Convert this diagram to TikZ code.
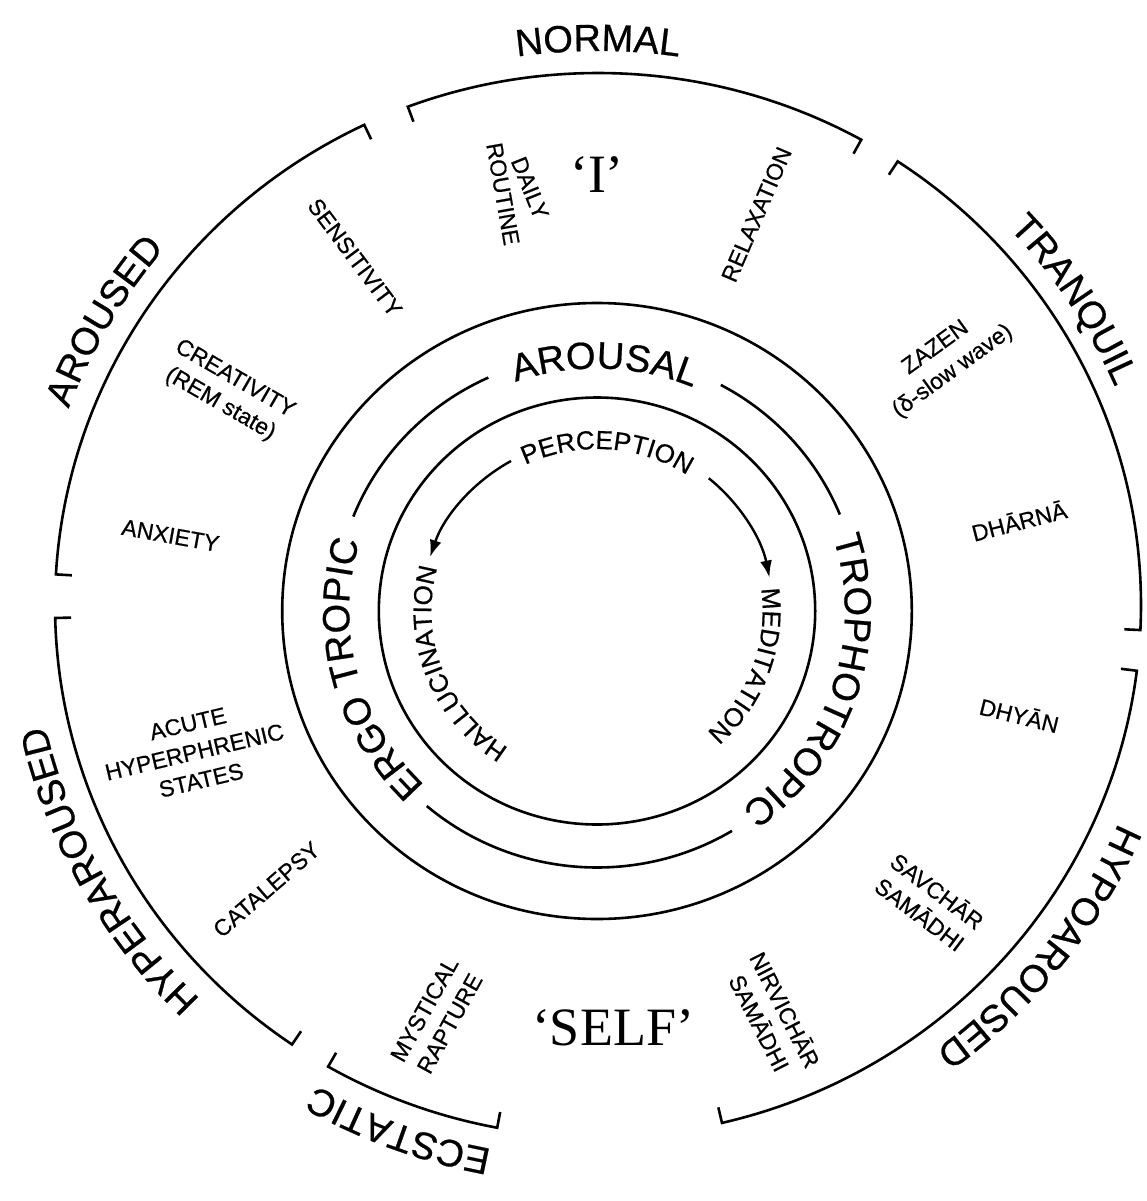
\documentclass[tikz,border=0pt]{standalone}
\usepackage{fontspec}
\setmainfont{Liberation Sans}[FakeBold=0.6]
\newfontfamily\serifface{Liberation Serif}
\usetikzlibrary{decorations.text,arrows.meta}
\newcommand\bigfont{\fontsize{38}{40}\selectfont}
\newcommand\midfont{\fontsize{26}{28}\selectfont}
\newcommand\smallfont{\fontsize{23}{29}\selectfont}
\newcommand\egofont{\serifface\fontsize{54}{60}\selectfont}
\begin{document}
\begin{tikzpicture}[x=1pt,y=1pt,
  ringline/.style={line width=2.6pt, line join=miter},
  arrowline/.style={line width=2.4pt, -{Latex[length=17pt,width=12pt]}},
  lbl/.style={font=\smallfont, align=center, inner sep=0pt},
  ego/.style={font=\egofont, anchor=base, inner sep=0pt},
  curved/.style={postaction={decorate, decoration={text along path, text align=center, text={#1}}}},
]
\useasboundingbox (0,0) rectangle (1147,-1201);

% ---------- inner rings ----------
\begin{scope}[shift={(597,-611)}]
  % full circles
  \draw[ringline] (0,0) ellipse [x radius=314.8pt, y radius=308pt];
  \draw[ringline] (0,0) ellipse [x radius=218.2pt, y radius=213.5pt];
  % broken arousal ring
  \draw[ringline] (114.5:262.1pt and 256.5pt) arc[start angle=114.5, end angle=158.4, x radius=262.1pt, y radius=256.5pt];
  \draw[ringline] (229.5:262.1pt and 256.5pt) arc[start angle=229.5, end angle=301, x radius=262.1pt, y radius=256.5pt];
  \draw[ringline] (22.1:262.1pt and 256.5pt) arc[start angle=22.1, end angle=61.8, x radius=262.1pt, y radius=256.5pt];
  % ring labels
  \path[curved={|\bigfont|AROUSAL}] (128.2:247.8pt and 242.5pt) arc[start angle=128.2, end angle=48.2, x radius=247.8pt, y radius=242.5pt];
  \path[curved={|\bigfont|ERGO TROPIC}] (244.5:247.8pt and 242.5pt) arc[start angle=244.5, end angle=144.5, x radius=247.8pt, y radius=242.5pt];
  \path[curved={|\bigfont|TROPHOTROPIC}] (31.7:247.8pt and 242.5pt) arc[start angle=31.7, end angle=-68.3, x radius=247.8pt, y radius=242.5pt];
  % innermost labels
  \path[curved={|\midfont|PERCEPTION}] (146.3:165.6pt and 162pt) arc[start angle=146.3, end angle=26.3, x radius=165.6pt, y radius=162pt];
  \path[curved={|\midfont|HALLUCINATION}] (270.9:165.6pt and 162pt) arc[start angle=270.9, end angle=130.9, x radius=165.6pt, y radius=162pt];
  \path[curved={|\midfont|MEDITATION}] (50:165.6pt and 162pt) arc[start angle=50, end angle=-90, x radius=165.6pt, y radius=162pt];
  % arrows
  \draw[arrowline] (119.3:175.8pt and 172pt) arc[start angle=119.3, end angle=161.7, x radius=175.8pt, y radius=172pt];
  \draw[arrowline] (50.5:175.8pt and 172pt) arc[start angle=50.5, end angle=11.2, x radius=175.8pt, y radius=172pt];
\end{scope}

% ---------- outer bracket arcs ----------
\begin{scope}[shift={(598,-605)}]
  \foreach \a/\b in {110.5/61, 115.5/176.7, 56.5/-2.7, -7.1/-76.8, 259.3/240.2, 235.7/181.4}{
    \draw[ringline] (\a:527pt and 516pt) -- (\a:543pt and 532pt)
      arc[start angle=\a, end angle=\b, x radius=543pt, y radius=532pt]
      -- (\b:527pt and 516pt);
  }
  \path[curved={|\bigfont|NORMAL}] (130:566.2pt and 554pt) arc[start angle=130, end angle=50, x radius=566.2pt, y radius=554pt];
  \path[curved={|\bigfont|AROUSED}] (189.8:566.2pt and 554pt) arc[start angle=189.8, end angle=109.8, x radius=566.2pt, y radius=554pt];
  \path[curved={|\bigfont|TRANQUIL}] (73:563pt and 551pt) arc[start angle=73, end angle=-7, x radius=563pt, y radius=551pt];
  \path[curved={|\bigfont|HYPERAROUSED}] (258.7:566.2pt and 554pt) arc[start angle=258.7, end angle=158.7, x radius=566.2pt, y radius=554pt];
  \path[curved={|\bigfont|HYPOAROUSED}] (12:566.2pt and 554pt) arc[start angle=12, end angle=-88, x radius=566.2pt, y radius=554pt];
  \path[curved={|\bigfont|ECSTATIC}] (289.5:566.2pt and 554pt) arc[start angle=289.5, end angle=209.5, x radius=566.2pt, y radius=554pt];
\end{scope}

% ---------- ego labels ----------
\node[ego] (egoI) at (597,-193) {‘I’};
\node[ego] (egoSelf) at (613,-1045) {‘SELF’};

% ---------- state labels ----------
\node[lbl, rotate=-68] (daily) at (530,-188) {DAILY};
\node[lbl, rotate=-80] (routine) at (503,-194) {ROUTINE};
\node[lbl, rotate=66.7] (relax) at (756.5,-214.5) {RELAXATION};
\node[lbl, rotate=-53.2] (sens) at (355,-257.5) {SENSITIVITY};
\node[lbl, rotate=-30] (creat) at (227.5,-392) {CREATIVITY\\(REM state)};
\node[lbl, rotate=-10.2] (anx) at (170.5,-535.5) {ANXIETY};
\node[lbl, rotate=13.3] (acute) at (194.5,-752) {ACUTE\\HYPERPHRENIC\\STATES};
\node[lbl, rotate=40.9] (cata) at (266.5,-889.5) {CATALEPSY};
\node[lbl, rotate=61] (myst) at (437,-1016.5) {MYSTICAL\\RAPTURE};
\node[lbl, rotate=-63] (nirv) at (773,-1016) {NIRVICHĀR\\SAMĀDHI};
\node[lbl, rotate=-37] (savc) at (929,-902) {SAVCHĀR\\SAMĀDHI};
\node[lbl, rotate=-13.8] (dhyan) at (1019.5,-714.5) {DHYĀN};
\node[lbl, rotate=14.4] (dharna) at (1019,-520.5) {DHĀRNĀ};
\node[lbl, rotate=36] (zazen) at (944.5,-360) {ZAZEN\\(δ-slow wave)};
\end{tikzpicture}
\end{document}
